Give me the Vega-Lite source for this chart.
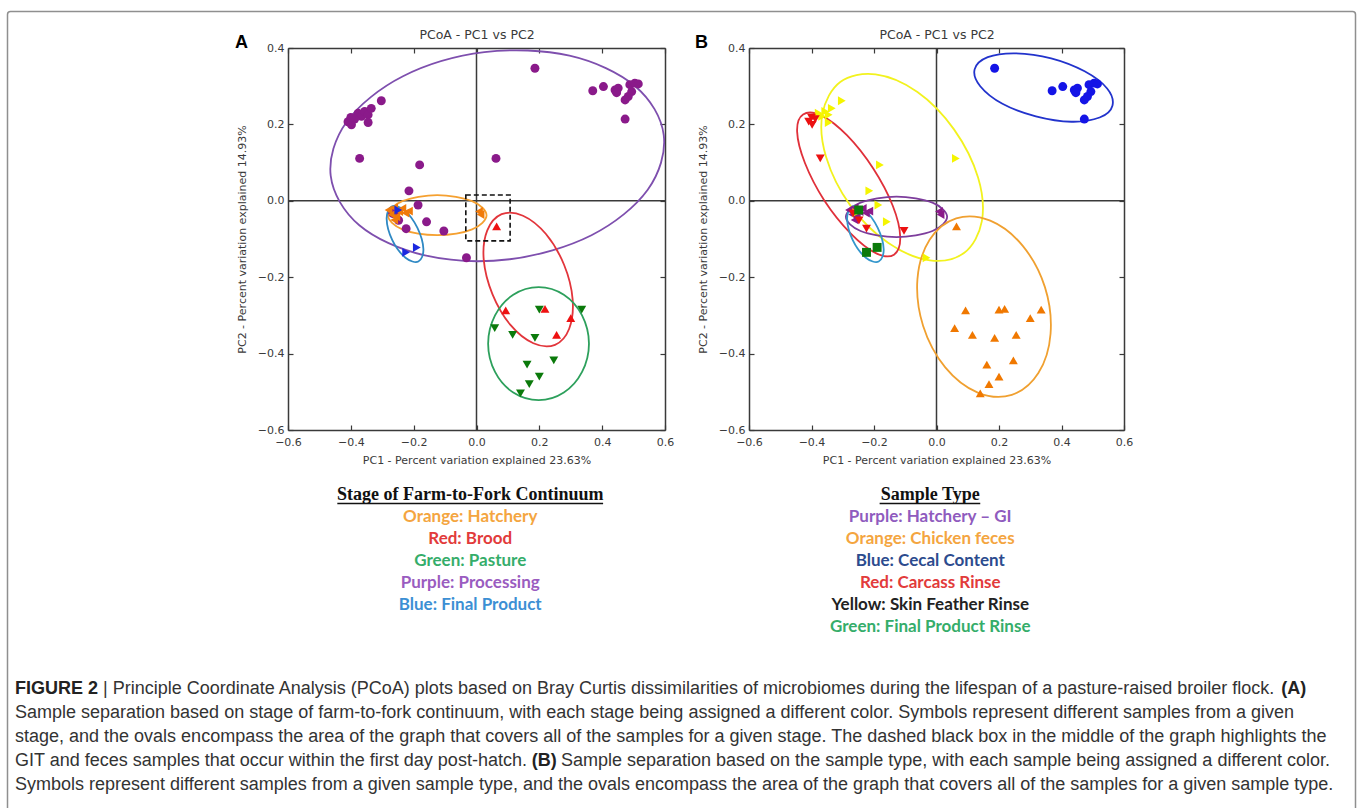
{
  "$schema": "https://vega.github.io/schema/vega-lite/v6.json",
  "width": 1358,
  "height": 808,
  "autosize": {"type": "none"},
  "padding": 0,
  "background": "white",
  "config": {
    "view": {"stroke": null},
    "axis": {
      "grid": false,
      "labelFont": "DejaVu Sans",
      "labelFontSize": 11,
      "labelColor": "#3a3a3a",
      "labelFlush": false,
      "titleFont": "DejaVu Sans",
      "titleFontSize": 11,
      "titleFontWeight": "normal",
      "titleColor": "#3a3a3a",
      "domainColor": "#3a3a3a",
      "domainWidth": 1.5,
      "tickColor": "#3a3a3a",
      "tickWidth": 1.2
    }
  },
  "datasets": {
    "samples": [
      {"pc1": -0.377, "pc2": 0.229, "stage": "Processing", "type": "Skin Feather Rinse"},
      {"pc1": -0.366, "pc2": 0.221, "stage": "Processing", "type": "Skin Feather Rinse"},
      {"pc1": -0.356, "pc2": 0.234, "stage": "Processing", "type": "Skin Feather Rinse"},
      {"pc1": -0.345, "pc2": 0.225, "stage": "Processing", "type": "Skin Feather Rinse"},
      {"pc1": -0.345, "pc2": 0.205, "stage": "Processing", "type": "Skin Feather Rinse"},
      {"pc1": -0.335, "pc2": 0.242, "stage": "Processing", "type": "Skin Feather Rinse"},
      {"pc1": -0.303, "pc2": 0.262, "stage": "Processing", "type": "Skin Feather Rinse"},
      {"pc1": -0.181, "pc2": 0.094, "stage": "Processing", "type": "Skin Feather Rinse"},
      {"pc1": -0.215, "pc2": 0.026, "stage": "Processing", "type": "Skin Feather Rinse"},
      {"pc1": -0.186, "pc2": -0.011, "stage": "Processing", "type": "Skin Feather Rinse"},
      {"pc1": -0.159, "pc2": -0.055, "stage": "Processing", "type": "Skin Feather Rinse"},
      {"pc1": 0.062, "pc2": 0.111, "stage": "Processing", "type": "Skin Feather Rinse"},
      {"pc1": -0.032, "pc2": -0.149, "stage": "Processing", "type": "Skin Feather Rinse"},
      {"pc1": -0.257, "pc2": -0.031, "stage": "Processing", "type": "Skin Feather Rinse"},
      {"pc1": -0.409, "pc2": 0.207, "stage": "Processing", "type": "Carcass Rinse"},
      {"pc1": -0.398, "pc2": 0.199, "stage": "Processing", "type": "Carcass Rinse"},
      {"pc1": -0.388, "pc2": 0.214, "stage": "Processing", "type": "Carcass Rinse"},
      {"pc1": -0.4, "pc2": 0.218, "stage": "Processing", "type": "Carcass Rinse"},
      {"pc1": -0.372, "pc2": 0.111, "stage": "Processing", "type": "Carcass Rinse"},
      {"pc1": -0.267, "pc2": -0.033, "stage": "Processing", "type": "Carcass Rinse"},
      {"pc1": -0.248, "pc2": -0.051, "stage": "Processing", "type": "Carcass Rinse"},
      {"pc1": -0.224, "pc2": -0.073, "stage": "Processing", "type": "Carcass Rinse"},
      {"pc1": -0.104, "pc2": -0.079, "stage": "Processing", "type": "Carcass Rinse"},
      {"pc1": 0.186, "pc2": 0.347, "stage": "Processing", "type": "Cecal Content"},
      {"pc1": 0.37, "pc2": 0.288, "stage": "Processing", "type": "Cecal Content"},
      {"pc1": 0.404, "pc2": 0.299, "stage": "Processing", "type": "Cecal Content"},
      {"pc1": 0.441, "pc2": 0.29, "stage": "Processing", "type": "Cecal Content"},
      {"pc1": 0.451, "pc2": 0.295, "stage": "Processing", "type": "Cecal Content"},
      {"pc1": 0.446, "pc2": 0.283, "stage": "Processing", "type": "Cecal Content"},
      {"pc1": 0.488, "pc2": 0.304, "stage": "Processing", "type": "Cecal Content"},
      {"pc1": 0.504, "pc2": 0.308, "stage": "Processing", "type": "Cecal Content"},
      {"pc1": 0.515, "pc2": 0.306, "stage": "Processing", "type": "Cecal Content"},
      {"pc1": 0.494, "pc2": 0.286, "stage": "Processing", "type": "Cecal Content"},
      {"pc1": 0.483, "pc2": 0.273, "stage": "Processing", "type": "Cecal Content"},
      {"pc1": 0.473, "pc2": 0.264, "stage": "Processing", "type": "Cecal Content"},
      {"pc1": 0.473, "pc2": 0.214, "stage": "Processing", "type": "Cecal Content"},
      {"pc1": 0.2, "pc2": -0.285, "stage": "Pasture", "type": "Chicken feces"},
      {"pc1": 0.335, "pc2": -0.285, "stage": "Pasture", "type": "Chicken feces"},
      {"pc1": 0.058, "pc2": -0.333, "stage": "Pasture", "type": "Chicken feces"},
      {"pc1": 0.115, "pc2": -0.351, "stage": "Pasture", "type": "Chicken feces"},
      {"pc1": 0.186, "pc2": -0.359, "stage": "Pasture", "type": "Chicken feces"},
      {"pc1": 0.246, "pc2": -0.418, "stage": "Pasture", "type": "Chicken feces"},
      {"pc1": 0.161, "pc2": -0.429, "stage": "Pasture", "type": "Chicken feces"},
      {"pc1": 0.2, "pc2": -0.46, "stage": "Pasture", "type": "Chicken feces"},
      {"pc1": 0.168, "pc2": -0.48, "stage": "Pasture", "type": "Chicken feces"},
      {"pc1": 0.14, "pc2": -0.504, "stage": "Pasture", "type": "Chicken feces"},
      {"pc1": 0.218, "pc2": -0.283, "stage": "Brood", "type": "Chicken feces"},
      {"pc1": 0.093, "pc2": -0.287, "stage": "Brood", "type": "Chicken feces"},
      {"pc1": 0.3, "pc2": -0.307, "stage": "Brood", "type": "Chicken feces"},
      {"pc1": 0.255, "pc2": -0.351, "stage": "Brood", "type": "Chicken feces"},
      {"pc1": 0.064, "pc2": -0.067, "stage": "Brood", "type": "Chicken feces"},
      {"pc1": -0.28, "pc2": -0.024, "stage": "Hatchery", "type": "Hatchery – GI"},
      {"pc1": -0.27, "pc2": -0.036, "stage": "Hatchery", "type": "Hatchery – GI"},
      {"pc1": -0.262, "pc2": -0.018, "stage": "Hatchery", "type": "Hatchery – GI"},
      {"pc1": -0.255, "pc2": -0.042, "stage": "Hatchery", "type": "Hatchery – GI"},
      {"pc1": -0.246, "pc2": -0.028, "stage": "Hatchery", "type": "Hatchery – GI"},
      {"pc1": -0.236, "pc2": -0.02, "stage": "Hatchery", "type": "Hatchery – GI"},
      {"pc1": -0.226, "pc2": -0.032, "stage": "Hatchery", "type": "Hatchery – GI"},
      {"pc1": -0.262, "pc2": -0.05, "stage": "Hatchery", "type": "Hatchery – GI"},
      {"pc1": -0.215, "pc2": -0.027, "stage": "Hatchery", "type": "Hatchery – GI"},
      {"pc1": 0.008, "pc2": -0.028, "stage": "Hatchery", "type": "Hatchery – GI"},
      {"pc1": 0.013, "pc2": -0.036, "stage": "Hatchery", "type": "Hatchery – GI"},
      {"pc1": -0.19, "pc2": -0.122, "stage": "Final Product", "type": "Final Product Rinse"},
      {"pc1": -0.224, "pc2": -0.135, "stage": "Final Product", "type": "Final Product Rinse"},
      {"pc1": -0.249, "pc2": -0.024, "stage": "Final Product", "type": "Final Product Rinse"}
    ],
    "ellA": [
      {"stage": "Processing", "i": 0, "pc1": 0.596, "pc2": 0.172},
      {"stage": "Processing", "i": 1, "pc1": 0.545, "pc2": 0.029},
      {"stage": "Processing", "i": 2, "pc1": 0.366, "pc2": -0.09},
      {"stage": "Processing", "i": 3, "pc1": 0.106, "pc2": -0.153},
      {"stage": "Processing", "i": 4, "pc1": -0.164, "pc2": -0.143},
      {"stage": "Processing", "i": 5, "pc1": -0.373, "pc2": -0.064},
      {"stage": "Processing", "i": 6, "pc1": -0.464, "pc2": 0.065},
      {"stage": "Processing", "i": 7, "pc1": -0.413, "pc2": 0.207},
      {"stage": "Processing", "i": 8, "pc1": -0.234, "pc2": 0.326},
      {"stage": "Processing", "i": 9, "pc1": 0.025, "pc2": 0.389},
      {"stage": "Processing", "i": 10, "pc1": 0.296, "pc2": 0.38},
      {"stage": "Processing", "i": 11, "pc1": 0.505, "pc2": 0.3},
      {"stage": "Hatchery", "i": 0, "pc1": 0.032, "pc2": -0.038},
      {"stage": "Hatchery", "i": 1, "pc1": -0.014, "pc2": -0.075},
      {"stage": "Hatchery", "i": 2, "pc1": -0.125, "pc2": -0.09},
      {"stage": "Hatchery", "i": 3, "pc1": -0.236, "pc2": -0.075},
      {"stage": "Hatchery", "i": 4, "pc1": -0.282, "pc2": -0.038},
      {"stage": "Hatchery", "i": 5, "pc1": -0.236, "pc2": -0.001},
      {"stage": "Hatchery", "i": 6, "pc1": -0.125, "pc2": 0.015},
      {"stage": "Hatchery", "i": 7, "pc1": -0.014, "pc2": -0.001},
      {"stage": "Final Product", "i": 0, "pc1": -0.185, "pc2": -0.159},
      {"stage": "Final Product", "i": 1, "pc1": -0.226, "pc2": -0.149},
      {"stage": "Final Product", "i": 2, "pc1": -0.268, "pc2": -0.103},
      {"stage": "Final Product", "i": 3, "pc1": -0.286, "pc2": -0.047},
      {"stage": "Final Product", "i": 4, "pc1": -0.27, "pc2": -0.015},
      {"stage": "Final Product", "i": 5, "pc1": -0.229, "pc2": -0.025},
      {"stage": "Final Product", "i": 6, "pc1": -0.188, "pc2": -0.071},
      {"stage": "Final Product", "i": 7, "pc1": -0.169, "pc2": -0.127},
      {"stage": "Brood", "i": 0, "pc1": 0.25, "pc2": -0.377},
      {"stage": "Brood", "i": 1, "pc1": 0.181, "pc2": -0.373},
      {"stage": "Brood", "i": 2, "pc1": 0.108, "pc2": -0.325},
      {"stage": "Brood", "i": 3, "pc1": 0.051, "pc2": -0.245},
      {"stage": "Brood", "i": 4, "pc1": 0.023, "pc2": -0.154},
      {"stage": "Brood", "i": 5, "pc1": 0.034, "pc2": -0.078},
      {"stage": "Brood", "i": 6, "pc1": 0.08, "pc2": -0.035},
      {"stage": "Brood", "i": 7, "pc1": 0.148, "pc2": -0.039},
      {"stage": "Brood", "i": 8, "pc1": 0.221, "pc2": -0.087},
      {"stage": "Brood", "i": 9, "pc1": 0.279, "pc2": -0.168},
      {"stage": "Brood", "i": 10, "pc1": 0.306, "pc2": -0.258},
      {"stage": "Brood", "i": 11, "pc1": 0.295, "pc2": -0.335},
      {"stage": "Pasture", "i": 0, "pc1": 0.358, "pc2": -0.374},
      {"stage": "Pasture", "i": 1, "pc1": 0.336, "pc2": -0.448},
      {"stage": "Pasture", "i": 2, "pc1": 0.278, "pc2": -0.502},
      {"stage": "Pasture", "i": 3, "pc1": 0.198, "pc2": -0.522},
      {"stage": "Pasture", "i": 4, "pc1": 0.117, "pc2": -0.502},
      {"stage": "Pasture", "i": 5, "pc1": 0.059, "pc2": -0.448},
      {"stage": "Pasture", "i": 6, "pc1": 0.037, "pc2": -0.374},
      {"stage": "Pasture", "i": 7, "pc1": 0.059, "pc2": -0.3},
      {"stage": "Pasture", "i": 8, "pc1": 0.117, "pc2": -0.246},
      {"stage": "Pasture", "i": 9, "pc1": 0.198, "pc2": -0.226},
      {"stage": "Pasture", "i": 10, "pc1": 0.278, "pc2": -0.246},
      {"stage": "Pasture", "i": 11, "pc1": 0.336, "pc2": -0.3}
    ],
    "ellB": [
      {"type": "Cecal Content", "i": 0, "pc1": 0.563, "pc2": 0.249},
      {"type": "Cecal Content", "i": 1, "pc1": 0.522, "pc2": 0.218},
      {"type": "Cecal Content", "i": 2, "pc1": 0.432, "pc2": 0.207},
      {"type": "Cecal Content", "i": 3, "pc1": 0.318, "pc2": 0.221},
      {"type": "Cecal Content", "i": 4, "pc1": 0.211, "pc2": 0.254},
      {"type": "Cecal Content", "i": 5, "pc1": 0.14, "pc2": 0.3},
      {"type": "Cecal Content", "i": 6, "pc1": 0.122, "pc2": 0.344},
      {"type": "Cecal Content", "i": 7, "pc1": 0.164, "pc2": 0.376},
      {"type": "Cecal Content", "i": 8, "pc1": 0.254, "pc2": 0.386},
      {"type": "Cecal Content", "i": 9, "pc1": 0.367, "pc2": 0.373},
      {"type": "Cecal Content", "i": 10, "pc1": 0.474, "pc2": 0.339},
      {"type": "Cecal Content", "i": 11, "pc1": 0.546, "pc2": 0.294},
      {"type": "Skin Feather Rinse", "i": 0, "pc1": 0.089, "pc2": -0.136},
      {"type": "Skin Feather Rinse", "i": 1, "pc1": -0.021, "pc2": -0.156},
      {"type": "Skin Feather Rinse", "i": 2, "pc1": -0.155, "pc2": -0.11},
      {"type": "Skin Feather Rinse", "i": 3, "pc1": -0.276, "pc2": -0.012},
      {"type": "Skin Feather Rinse", "i": 4, "pc1": -0.353, "pc2": 0.114},
      {"type": "Skin Feather Rinse", "i": 5, "pc1": -0.365, "pc2": 0.228},
      {"type": "Skin Feather Rinse", "i": 6, "pc1": -0.308, "pc2": 0.311},
      {"type": "Skin Feather Rinse", "i": 7, "pc1": -0.195, "pc2": 0.331},
      {"type": "Skin Feather Rinse", "i": 8, "pc1": -0.061, "pc2": 0.285},
      {"type": "Skin Feather Rinse", "i": 9, "pc1": 0.056, "pc2": 0.187},
      {"type": "Skin Feather Rinse", "i": 10, "pc1": 0.133, "pc2": 0.061},
      {"type": "Skin Feather Rinse", "i": 11, "pc1": 0.145, "pc2": -0.054},
      {"type": "Carcass Rinse", "i": 0, "pc1": -0.136, "pc2": -0.141},
      {"type": "Carcass Rinse", "i": 1, "pc1": -0.194, "pc2": -0.137},
      {"type": "Carcass Rinse", "i": 2, "pc1": -0.275, "pc2": -0.085},
      {"type": "Carcass Rinse", "i": 3, "pc1": -0.359, "pc2": 0.001},
      {"type": "Carcass Rinse", "i": 4, "pc1": -0.421, "pc2": 0.099},
      {"type": "Carcass Rinse", "i": 5, "pc1": -0.446, "pc2": 0.181},
      {"type": "Carcass Rinse", "i": 6, "pc1": -0.427, "pc2": 0.226},
      {"type": "Carcass Rinse", "i": 7, "pc1": -0.368, "pc2": 0.223},
      {"type": "Carcass Rinse", "i": 8, "pc1": -0.286, "pc2": 0.171},
      {"type": "Carcass Rinse", "i": 9, "pc1": -0.203, "pc2": 0.085},
      {"type": "Carcass Rinse", "i": 10, "pc1": -0.14, "pc2": -0.013},
      {"type": "Carcass Rinse", "i": 11, "pc1": -0.116, "pc2": -0.095},
      {"type": "Hatchery – GI", "i": 0, "pc1": 0.034, "pc2": -0.042},
      {"type": "Hatchery – GI", "i": 1, "pc1": -0.013, "pc2": -0.079},
      {"type": "Hatchery – GI", "i": 2, "pc1": -0.128, "pc2": -0.095},
      {"type": "Hatchery – GI", "i": 3, "pc1": -0.243, "pc2": -0.079},
      {"type": "Hatchery – GI", "i": 4, "pc1": -0.29, "pc2": -0.042},
      {"type": "Hatchery – GI", "i": 5, "pc1": -0.243, "pc2": -0.005},
      {"type": "Hatchery – GI", "i": 6, "pc1": -0.128, "pc2": 0.011},
      {"type": "Hatchery – GI", "i": 7, "pc1": -0.013, "pc2": -0.005},
      {"type": "Final Product Rinse", "i": 0, "pc1": -0.185, "pc2": -0.159},
      {"type": "Final Product Rinse", "i": 1, "pc1": -0.226, "pc2": -0.149},
      {"type": "Final Product Rinse", "i": 2, "pc1": -0.268, "pc2": -0.103},
      {"type": "Final Product Rinse", "i": 3, "pc1": -0.286, "pc2": -0.047},
      {"type": "Final Product Rinse", "i": 4, "pc1": -0.27, "pc2": -0.015},
      {"type": "Final Product Rinse", "i": 5, "pc1": -0.229, "pc2": -0.025},
      {"type": "Final Product Rinse", "i": 6, "pc1": -0.188, "pc2": -0.071},
      {"type": "Final Product Rinse", "i": 7, "pc1": -0.169, "pc2": -0.127},
      {"type": "Chicken feces", "i": 0, "pc1": 0.241, "pc2": -0.508},
      {"type": "Chicken feces", "i": 1, "pc1": 0.132, "pc2": -0.502},
      {"type": "Chicken feces", "i": 2, "pc1": 0.028, "pc2": -0.436},
      {"type": "Chicken feces", "i": 3, "pc1": -0.043, "pc2": -0.327},
      {"type": "Chicken feces", "i": 4, "pc1": -0.061, "pc2": -0.205},
      {"type": "Chicken feces", "i": 5, "pc1": -0.022, "pc2": -0.102},
      {"type": "Chicken feces", "i": 6, "pc1": 0.063, "pc2": -0.046},
      {"type": "Chicken feces", "i": 7, "pc1": 0.172, "pc2": -0.052},
      {"type": "Chicken feces", "i": 8, "pc1": 0.276, "pc2": -0.118},
      {"type": "Chicken feces", "i": 9, "pc1": 0.347, "pc2": -0.226},
      {"type": "Chicken feces", "i": 10, "pc1": 0.365, "pc2": -0.348},
      {"type": "Chicken feces", "i": 11, "pc1": 0.326, "pc2": -0.451}
    ],
    "legA": [
      {"line": 1, "text": "Orange: Hatchery", "key": "Hatchery"},
      {"line": 2, "text": "Red: Brood", "key": "Brood"},
      {"line": 3, "text": "Green: Pasture", "key": "Pasture"},
      {"line": 4, "text": "Purple: Processing", "key": "Processing"},
      {"line": 5, "text": "Blue: Final Product", "key": "Final Product"}
    ],
    "legB": [
      {"line": 1, "text": "Purple: Hatchery – GI", "key": "Hatchery – GI"},
      {"line": 2, "text": "Orange: Chicken feces", "key": "Chicken feces"},
      {"line": 3, "text": "Blue: Cecal Content", "key": "Cecal Content"},
      {"line": 4, "text": "Red: Carcass Rinse", "key": "Carcass Rinse"},
      {"line": 5, "text": "Yellow: Skin Feather Rinse", "key": "Skin Feather Rinse"},
      {"line": 6, "text": "Green: Final Product Rinse", "key": "Final Product Rinse"}
    ],
    "caption": [
      {"line": 1, "part": "figure", "text": "FIGURE 2"},
      {"line": 1, "part": "summary", "text": "| Principle Coordinate Analysis (PCoA) plots based on Bray Curtis dissimilarities of microbiomes during the lifespan of a pasture-raised broiler flock."},
      {"line": 1, "part": "labelA", "text": "(A)"},
      {"line": 2, "part": "body", "text": "Sample separation based on stage of farm-to-fork continuum, with each stage being assigned a different color. Symbols represent different samples from a given"},
      {"line": 3, "part": "body", "text": "stage, and the ovals encompass the area of the graph that covers all of the samples for a given stage. The dashed black box in the middle of the graph highlights the"},
      {"line": 4, "part": "body", "text": "GIT and feces samples that occur within the first day post-hatch."},
      {"line": 4, "part": "labelB", "text": "(B)"},
      {"line": 4, "part": "partB", "text": "Sample separation based on the sample type, with each sample being assigned a different color."},
      {"line": 5, "part": "body", "text": "Symbols represent different samples from a given sample type, and the ovals encompass the area of the graph that covers all of the samples for a given sample type."}
    ]
  },
  "layer": [
    {
      "data": {"values": [{}]},
      "mark": {"type": "rect", "filled": false, "color": "#8f8f8f", "strokeWidth": 1.5, "cornerRadius": 3},
      "encoding": {
        "x": {"datum": 0, "type": "quantitative", "scale": {"domain": [0, 1], "range": [7.5, 1355.5], "nice": false, "zero": false}, "axis": null},
        "x2": {"datum": 1},
        "y": {"datum": 0, "type": "quantitative", "scale": {"domain": [0, 1], "range": [11.5, 840], "nice": false, "zero": false}, "axis": null},
        "y2": {"datum": 1}
      }
    },
    {
      "layer": [
        {
          "data": {"values": [{}]},
          "mark": {"type": "rule", "color": "#3a3a3a", "strokeWidth": 1.5},
          "encoding": {
            "x": {"datum": 0, "type": "quantitative", "scale": {"domain": [-0.6, 0.6], "range": [288, 665], "nice": false, "zero": false},
              "axis": {"orient": "bottom", "offset": -378, "values": [-0.6, -0.4, -0.2, 0, 0.2, 0.4, 0.6], "format": ".1f", "tickSize": -5, "labelPadding": 11, "title": "PC1 - Percent variation explained 23.63%", "titlePadding": 7}},
            "y": {"datum": -0.6, "type": "quantitative", "scale": {"domain": [-0.6, 0.4], "range": [430, 48], "nice": false, "zero": false},
              "axis": {"orient": "left", "offset": -288, "values": [-0.6, -0.4, -0.2, 0, 0.2, 0.4], "format": ".1f", "tickSize": -5, "labelPadding": 9, "title": "PC2 - Percent variation explained 14.93%", "titlePadding": 10}},
            "y2": {"datum": 0.4}
          }
        },
        {
          "data": {"values": [{}]},
          "mark": {"type": "rule", "color": "#3a3a3a", "strokeWidth": 1.5},
          "encoding": {
            "y": {"datum": 0, "type": "quantitative", "scale": {"domain": [-0.6, 0.4], "range": [430, 48], "nice": false, "zero": false},
              "axis": {"orient": "right", "offset": -693, "values": [-0.6, -0.4, -0.2, 0, 0.2, 0.4], "labels": false, "tickSize": -5, "title": null}},
            "x": {"datum": -0.6, "type": "quantitative", "scale": {"domain": [-0.6, 0.6], "range": [288, 665], "nice": false, "zero": false},
              "axis": {"orient": "top", "offset": -48, "values": [-0.6, -0.4, -0.2, 0, 0.2, 0.4, 0.6], "labels": false, "tickSize": -5, "title": "PCoA - PC1 vs PC2", "titleFontSize": 12.5, "titlePadding": 6}},
            "x2": {"datum": 0.6}
          }
        },
        {
          "data": {"name": "ellA"},
          "mark": {"type": "line", "interpolate": "cardinal-closed", "strokeWidth": 1.8},
          "encoding": {
            "x": {"field": "pc1", "type": "quantitative", "scale": {"domain": [-0.6, 0.6], "range": [288, 665], "nice": false, "zero": false}, "axis": null},
            "y": {"field": "pc2", "type": "quantitative", "scale": {"domain": [-0.6, 0.4], "range": [430, 48], "nice": false, "zero": false}, "axis": null},
            "stroke": {"field": "stage", "type": "nominal", "scale": {"domain": ["Hatchery", "Brood", "Pasture", "Processing", "Final Product"], "range": ["#f5a030", "#e2353b", "#2da05c", "#7e4fae", "#2f89c4"]}, "legend": null},
            "order": {"field": "i", "type": "quantitative"}
          }
        },
        {
          "data": {"values": [{}]},
          "mark": {"type": "rect", "filled": false, "color": "#111111", "strokeWidth": 1.6, "strokeDash": [5, 3]},
          "encoding": {
            "x": {"datum": -0.034, "type": "quantitative", "scale": {"domain": [-0.6, 0.6], "range": [288, 665], "nice": false, "zero": false}, "axis": null},
            "x2": {"datum": 0.107},
            "y": {"datum": 0.015, "type": "quantitative", "scale": {"domain": [-0.6, 0.4], "range": [430, 48], "nice": false, "zero": false}, "axis": null},
            "y2": {"datum": -0.105}
          }
        },
        {
          "data": {"name": "samples"},
          "mark": {"type": "point", "filled": true, "size": 80, "opacity": 1, "strokeWidth": 0},
          "encoding": {
            "x": {"field": "pc1", "type": "quantitative", "scale": {"domain": [-0.6, 0.6], "range": [288, 665], "nice": false, "zero": false}, "axis": null},
            "y": {"field": "pc2", "type": "quantitative", "scale": {"domain": [-0.6, 0.4], "range": [430, 48], "nice": false, "zero": false}, "axis": null},
            "fill": {"field": "stage", "type": "nominal", "scale": {"domain": ["Hatchery", "Brood", "Pasture", "Processing", "Final Product"], "range": ["#f07a0a", "#ee1111", "#0b7a0b", "#8a1a8a", "#1a28e0"]}, "legend": null},
            "shape": {"field": "stage", "type": "nominal", "scale": {"domain": ["Hatchery", "Brood", "Pasture", "Processing", "Final Product"], "range": ["triangle-left", "triangle-up", "triangle-down", "circle", "triangle-right"]}, "legend": null}
          }
        },
        {
          "data": {"values": [{}]},
          "mark": {"type": "text", "text": "A", "font": "Liberation Sans", "fontWeight": "bold", "fontSize": 18, "align": "center", "baseline": "middle", "color": "#000000"},
          "encoding": {
            "x": {"datum": -0.748, "type": "quantitative", "scale": {"domain": [-0.6, 0.6], "range": [288, 665], "nice": false, "zero": false}, "axis": null},
            "y": {"datum": 0.412, "type": "quantitative", "scale": {"domain": [-0.6, 0.4], "range": [430, 48], "nice": false, "zero": false}, "axis": null}
          }
        }
      ],
      "resolve": {"axis": {"x": "independent", "y": "independent"}}
    },
    {
      "layer": [
        {
          "data": {"values": [{}]},
          "mark": {"type": "rule", "color": "#3a3a3a", "strokeWidth": 1.5},
          "encoding": {
            "x": {"datum": 0, "type": "quantitative", "scale": {"domain": [-0.6, 0.6], "range": [749, 1124], "nice": false, "zero": false},
              "axis": {"orient": "bottom", "offset": -378, "values": [-0.6, -0.4, -0.2, 0, 0.2, 0.4, 0.6], "format": ".1f", "tickSize": -5, "labelPadding": 11, "title": "PC1 - Percent variation explained 23.63%", "titlePadding": 7}},
            "y": {"datum": -0.6, "type": "quantitative", "scale": {"domain": [-0.6, 0.4], "range": [430, 48], "nice": false, "zero": false},
              "axis": {"orient": "left", "offset": -749, "values": [-0.6, -0.4, -0.2, 0, 0.2, 0.4], "format": ".1f", "tickSize": -5, "labelPadding": 9, "title": "PC2 - Percent variation explained 14.93%", "titlePadding": 10}},
            "y2": {"datum": 0.4}
          }
        },
        {
          "data": {"values": [{}]},
          "mark": {"type": "rule", "color": "#3a3a3a", "strokeWidth": 1.5},
          "encoding": {
            "y": {"datum": 0, "type": "quantitative", "scale": {"domain": [-0.6, 0.4], "range": [430, 48], "nice": false, "zero": false},
              "axis": {"orient": "right", "offset": -234, "values": [-0.6, -0.4, -0.2, 0, 0.2, 0.4], "labels": false, "tickSize": -5, "title": null}},
            "x": {"datum": -0.6, "type": "quantitative", "scale": {"domain": [-0.6, 0.6], "range": [749, 1124], "nice": false, "zero": false},
              "axis": {"orient": "top", "offset": -48, "values": [-0.6, -0.4, -0.2, 0, 0.2, 0.4, 0.6], "labels": false, "tickSize": -5, "title": "PCoA - PC1 vs PC2", "titleFontSize": 12.5, "titlePadding": 6}},
            "x2": {"datum": 0.6}
          }
        },
        {
          "data": {"name": "ellB"},
          "mark": {"type": "line", "interpolate": "cardinal-closed", "strokeWidth": 1.8},
          "encoding": {
            "x": {"field": "pc1", "type": "quantitative", "scale": {"domain": [-0.6, 0.6], "range": [749, 1124], "nice": false, "zero": false}, "axis": null},
            "y": {"field": "pc2", "type": "quantitative", "scale": {"domain": [-0.6, 0.4], "range": [430, 48], "nice": false, "zero": false}, "axis": null},
            "stroke": {"field": "type", "type": "nominal", "scale": {"domain": ["Hatchery – GI", "Chicken feces", "Cecal Content", "Carcass Rinse", "Skin Feather Rinse", "Final Product Rinse"], "range": ["#7d3d9c", "#f0a030", "#2233cc", "#e0303a", "#f2f21e", "#3396cc"]}, "legend": null},
            "order": {"field": "i", "type": "quantitative"}
          }
        },
        {
          "data": {"name": "samples"},
          "transform": [{"filter": "datum.type === 'Hatchery – GI'"}],
          "mark": {"type": "point", "filled": true, "size": 80, "opacity": 1, "strokeWidth": 0},
          "encoding": {
            "x": {"field": "pc1", "type": "quantitative", "scale": {"domain": [-0.6, 0.6], "range": [749, 1124], "nice": false, "zero": false}, "axis": null},
            "y": {"field": "pc2", "type": "quantitative", "scale": {"domain": [-0.6, 0.4], "range": [430, 48], "nice": false, "zero": false}, "axis": null},
            "fill": {"field": "type", "type": "nominal", "scale": {"domain": ["Hatchery – GI", "Chicken feces", "Cecal Content", "Carcass Rinse", "Skin Feather Rinse", "Final Product Rinse"], "range": ["#8a1a8a", "#f07800", "#1414e6", "#ec1010", "#f5f500", "#0b7a0b"]}, "legend": null},
            "shape": {"field": "type", "type": "nominal", "scale": {"domain": ["Hatchery – GI", "Chicken feces", "Cecal Content", "Carcass Rinse", "Skin Feather Rinse", "Final Product Rinse"], "range": ["triangle-left", "triangle-up", "circle", "triangle-down", "triangle-right", "square"]}, "legend": null}
          }
        },
        {
          "data": {"name": "samples"},
          "transform": [{"filter": "datum.type !== 'Hatchery – GI'"}],
          "mark": {"type": "point", "filled": true, "size": 80, "opacity": 1, "strokeWidth": 0},
          "encoding": {
            "x": {"field": "pc1", "type": "quantitative", "scale": {"domain": [-0.6, 0.6], "range": [749, 1124], "nice": false, "zero": false}, "axis": null},
            "y": {"field": "pc2", "type": "quantitative", "scale": {"domain": [-0.6, 0.4], "range": [430, 48], "nice": false, "zero": false}, "axis": null},
            "fill": {"field": "type", "type": "nominal", "scale": {"domain": ["Hatchery – GI", "Chicken feces", "Cecal Content", "Carcass Rinse", "Skin Feather Rinse", "Final Product Rinse"], "range": ["#8a1a8a", "#f07800", "#1414e6", "#ec1010", "#f5f500", "#0b7a0b"]}, "legend": null},
            "shape": {"field": "type", "type": "nominal", "scale": {"domain": ["Hatchery – GI", "Chicken feces", "Cecal Content", "Carcass Rinse", "Skin Feather Rinse", "Final Product Rinse"], "range": ["triangle-left", "triangle-up", "circle", "triangle-down", "triangle-right", "square"]}, "legend": null}
          }
        },
        {
          "data": {"values": [{}]},
          "mark": {"type": "text", "text": "B", "font": "Liberation Sans", "fontWeight": "bold", "fontSize": 18, "align": "center", "baseline": "middle", "color": "#000000"},
          "encoding": {
            "x": {"datum": -0.752, "type": "quantitative", "scale": {"domain": [-0.6, 0.6], "range": [749, 1124], "nice": false, "zero": false}, "axis": null},
            "y": {"datum": 0.412, "type": "quantitative", "scale": {"domain": [-0.6, 0.4], "range": [430, 48], "nice": false, "zero": false}, "axis": null}
          }
        }
      ],
      "resolve": {"axis": {"x": "independent", "y": "independent"}}
    },
    {
      "layer": [
        {
          "data": {"name": "legA"},
          "mark": {"type": "text", "font": "Lato", "fontWeight": "bold", "fontSize": 17, "align": "center", "baseline": "middle"},
          "encoding": {
            "x": {"datum": -0.02, "type": "quantitative", "scale": {"domain": [-0.6, 0.6], "range": [288, 665], "nice": false, "zero": false}, "axis": null},
            "y": {"field": "line", "type": "quantitative", "scale": {"domain": [0, 6], "range": [495, 627], "nice": false, "zero": false}, "axis": null},
            "text": {"field": "text"},
            "fill": {"field": "key", "type": "nominal", "scale": {"domain": ["Hatchery", "Brood", "Pasture", "Processing", "Final Product"], "range": ["#f4a540", "#e23b3b", "#35ad6a", "#9a5cc0", "#3c8fd4"]}, "legend": null}
          }
        },
        {
          "data": {"values": [{}]},
          "mark": {"type": "text", "text": "Stage of Farm-to-Fork Continuum", "font": "Liberation Serif", "fontWeight": "bold", "fontSize": 18, "align": "center", "baseline": "middle", "color": "#111111"},
          "encoding": {
            "x": {"datum": -0.02, "type": "quantitative", "scale": {"domain": [-0.6, 0.6], "range": [288, 665], "nice": false, "zero": false}, "axis": null},
            "y": {"datum": 0, "type": "quantitative", "scale": {"domain": [0, 6], "range": [495, 627], "nice": false, "zero": false}, "axis": null}
          }
        },
        {
          "data": {"values": [{}]},
          "mark": {"type": "rule", "color": "#111111", "strokeWidth": 1.6},
          "encoding": {
            "x": {"datum": -0.443, "type": "quantitative", "scale": {"domain": [-0.6, 0.6], "range": [288, 665], "nice": false, "zero": false}, "axis": null},
            "x2": {"datum": 0.403},
            "y": {"datum": 0.386, "type": "quantitative", "scale": {"domain": [0, 6], "range": [495, 627], "nice": false, "zero": false}, "axis": null}
          }
        }
      ]
    },
    {
      "layer": [
        {
          "data": {"name": "legB"},
          "mark": {"type": "text", "font": "Lato", "fontWeight": "bold", "fontSize": 17, "align": "center", "baseline": "middle"},
          "encoding": {
            "x": {"datum": -0.02, "type": "quantitative", "scale": {"domain": [-0.6, 0.6], "range": [749, 1124], "nice": false, "zero": false}, "axis": null},
            "y": {"field": "line", "type": "quantitative", "scale": {"domain": [0, 6], "range": [495, 627], "nice": false, "zero": false}, "axis": null},
            "text": {"field": "text"},
            "fill": {"field": "key", "type": "nominal", "scale": {"domain": ["Hatchery – GI", "Chicken feces", "Cecal Content", "Carcass Rinse", "Skin Feather Rinse", "Final Product Rinse"], "range": ["#8f5bbe", "#f4a540", "#2c4b8e", "#e23b3b", "#222222", "#35ad6a"]}, "legend": null}
          }
        },
        {
          "data": {"values": [{}]},
          "mark": {"type": "text", "text": "Sample Type", "font": "Liberation Serif", "fontWeight": "bold", "fontSize": 18, "align": "center", "baseline": "middle", "color": "#111111"},
          "encoding": {
            "x": {"datum": -0.02, "type": "quantitative", "scale": {"domain": [-0.6, 0.6], "range": [749, 1124], "nice": false, "zero": false}, "axis": null},
            "y": {"datum": 0, "type": "quantitative", "scale": {"domain": [0, 6], "range": [495, 627], "nice": false, "zero": false}, "axis": null}
          }
        },
        {
          "data": {"values": [{}]},
          "mark": {"type": "rule", "color": "#111111", "strokeWidth": 1.6},
          "encoding": {
            "x": {"datum": -0.182, "type": "quantitative", "scale": {"domain": [-0.6, 0.6], "range": [749, 1124], "nice": false, "zero": false}, "axis": null},
            "x2": {"datum": 0.14},
            "y": {"datum": 0.386, "type": "quantitative", "scale": {"domain": [0, 6], "range": [495, 627], "nice": false, "zero": false}, "axis": null}
          }
        }
      ]
    },
    {
      "data": {"name": "caption"},
      "layer": [
        {
          "transform": [{"filter": "datum.part === 'body'"}],
          "mark": {"type": "text", "font": "Liberation Sans", "fontSize": 18, "align": "left", "baseline": "middle", "color": "#333333"},
          "encoding": {
            "x": {"datum": 0, "type": "quantitative", "scale": {"domain": [0, 1], "range": [15, 1345], "nice": false, "zero": false}, "axis": null},
            "y": {"field": "line", "type": "quantitative", "scale": {"domain": [1, 5], "range": [689, 785], "nice": false, "zero": false}, "axis": null},
            "text": {"field": "text"}
          }
        },
        {
          "transform": [{"filter": "datum.part === 'figure'"}],
          "mark": {"type": "text", "font": "Liberation Sans", "fontWeight": "bold", "fontSize": 18, "align": "left", "baseline": "middle", "color": "#222222"},
          "encoding": {
            "x": {"datum": 0, "type": "quantitative", "scale": {"domain": [0, 1], "range": [15, 1345], "nice": false, "zero": false}, "axis": null},
            "y": {"field": "line", "type": "quantitative", "scale": {"domain": [1, 5], "range": [689, 785], "nice": false, "zero": false}, "axis": null},
            "text": {"field": "text"}
          }
        },
        {
          "transform": [{"filter": "datum.part === 'summary'"}],
          "mark": {"type": "text", "font": "Liberation Sans", "fontSize": 18, "align": "left", "baseline": "middle", "color": "#333333"},
          "encoding": {
            "x": {"datum": 0.0662, "type": "quantitative", "scale": {"domain": [0, 1], "range": [15, 1345], "nice": false, "zero": false}, "axis": null},
            "y": {"field": "line", "type": "quantitative", "scale": {"domain": [1, 5], "range": [689, 785], "nice": false, "zero": false}, "axis": null},
            "text": {"field": "text"}
          }
        },
        {
          "transform": [{"filter": "datum.part === 'labelA'"}],
          "mark": {"type": "text", "font": "Liberation Sans", "fontWeight": "bold", "fontSize": 18, "align": "left", "baseline": "middle", "color": "#222222"},
          "encoding": {
            "x": {"datum": 0.952, "type": "quantitative", "scale": {"domain": [0, 1], "range": [15, 1345], "nice": false, "zero": false}, "axis": null},
            "y": {"field": "line", "type": "quantitative", "scale": {"domain": [1, 5], "range": [689, 785], "nice": false, "zero": false}, "axis": null},
            "text": {"field": "text"}
          }
        },
        {
          "transform": [{"filter": "datum.part === 'labelB'"}],
          "mark": {"type": "text", "font": "Liberation Sans", "fontWeight": "bold", "fontSize": 18, "align": "left", "baseline": "middle", "color": "#222222"},
          "encoding": {
            "x": {"datum": 0.3885, "type": "quantitative", "scale": {"domain": [0, 1], "range": [15, 1345], "nice": false, "zero": false}, "axis": null},
            "y": {"field": "line", "type": "quantitative", "scale": {"domain": [1, 5], "range": [689, 785], "nice": false, "zero": false}, "axis": null},
            "text": {"field": "text"}
          }
        },
        {
          "transform": [{"filter": "datum.part === 'partB'"}],
          "mark": {"type": "text", "font": "Liberation Sans", "fontSize": 18, "align": "left", "baseline": "middle", "color": "#333333"},
          "encoding": {
            "x": {"datum": 0.4105, "type": "quantitative", "scale": {"domain": [0, 1], "range": [15, 1345], "nice": false, "zero": false}, "axis": null},
            "y": {"field": "line", "type": "quantitative", "scale": {"domain": [1, 5], "range": [689, 785], "nice": false, "zero": false}, "axis": null},
            "text": {"field": "text"}
          }
        }
      ]
    }
  ],
  "resolve": {
    "scale": {"x": "independent", "y": "independent", "fill": "independent", "stroke": "independent", "shape": "independent"},
    "axis": {"x": "independent", "y": "independent"}
  }
}
